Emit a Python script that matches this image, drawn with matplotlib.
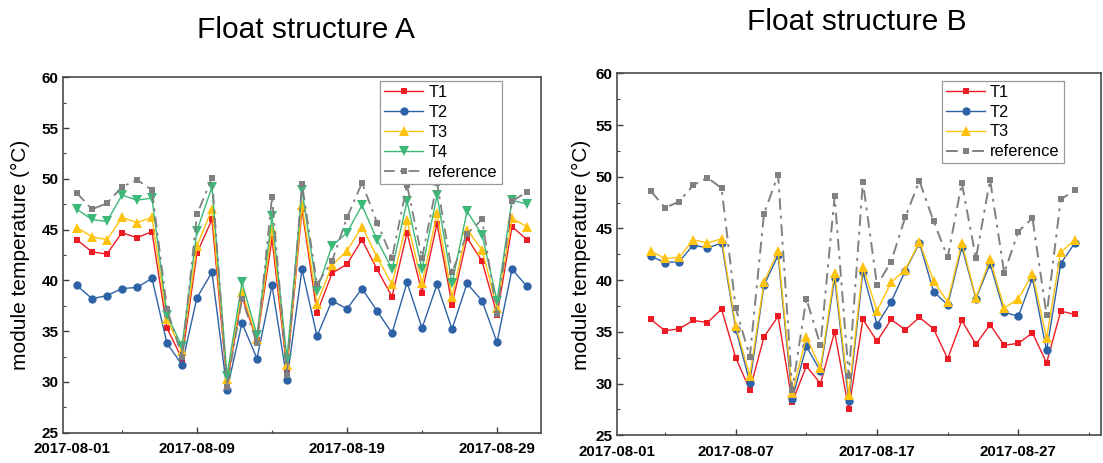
import matplotlib
matplotlib.use("Agg")
import matplotlib.pyplot as plt
import matplotlib.dates as mdates
import pandas as pd

plt.rcParams["font.family"] = ["Liberation Sans", "DejaVu Sans"]

dates = pd.date_range("2017-08-01", "2017-08-31", freq="D")

# Float structure A
a_t1 = [44.0, 42.8, 42.6, 44.7, 44.2, 44.8, 35.3, 32.3, 42.7, 46.0, 29.9, 38.4, 34.1, 44.1, 31.2,
        47.0, 36.8, 40.7, 41.6, 44.0, 41.1, 38.4, 44.7, 38.8, 45.6, 37.6, 44.2, 41.9, 36.6, 45.3, 44.0]
a_t2 = [39.5, 38.2, 38.5, 39.2, 39.3, 40.2, 33.8, 31.7, 38.3, 40.8, 29.2, 35.8, 32.3, 39.5, 30.2,
        41.1, 34.5, 38.0, 37.2, 39.2, 37.0, 34.8, 39.8, 35.3, 39.6, 35.2, 39.7, 38.0, 33.9, 41.1, 39.4]
a_t3 = [45.2, 44.3, 44.0, 46.2, 45.7, 46.2, 36.2, 33.0, 43.4, 47.0, 30.3, 38.9, 34.2, 45.1, 31.7,
        47.4, 37.7, 41.5, 42.9, 45.3, 42.3, 39.6, 45.9, 39.7, 46.6, 38.4, 45.0, 43.0, 37.3, 46.1, 45.3]
a_t4 = [47.0, 46.0, 45.8, 48.4, 47.9, 48.1, 36.6, 33.5, 44.9, 49.2, 30.6, 39.8, 34.6, 46.3, 32.3,
        48.9, 39.0, 43.4, 44.7, 47.4, 44.0, 41.1, 47.8, 41.1, 48.4, 39.7, 46.8, 44.5, 38.0, 47.9, 47.5]
a_ref = [48.6, 47.0, 47.6, 49.2, 49.9, 48.9, 37.2, 32.5, 46.5, 50.1, 29.5, 38.2, 33.8, 48.2, 30.7,
         49.5, 39.6, 41.9, 46.2, 49.6, 45.7, 42.2, 49.4, 42.2, 49.6, 40.8, 44.6, 46.0, 36.7, 47.8, 48.7]

# Float structure B
b_t1 = [36.2, 35.1, 35.3, 36.1, 35.9, 37.2, 32.5, 29.4, 34.5, 36.5, 28.2, 31.7, 30.0, 35.0, 27.5,
        36.2, 34.1, 36.2, 35.2, 36.4, 35.3, 32.4, 36.1, 33.8, 35.7, 33.7, 33.9, 34.9, 32.0, 37.0, 36.7]
b_t2 = [42.3, 41.7, 41.8, 43.4, 43.1, 43.6, 35.3, 30.1, 39.5, 42.4, 28.5, 33.6, 31.2, 40.2, 28.3,
        40.8, 35.7, 37.9, 40.9, 43.6, 38.9, 37.6, 43.2, 38.2, 41.6, 36.9, 36.5, 40.2, 33.2, 41.6, 43.6]
b_t3 = [42.8, 42.1, 42.2, 43.9, 43.6, 44.0, 35.6, 30.7, 39.8, 42.8, 29.1, 34.5, 31.5, 40.7, 28.9,
        41.3, 37.0, 39.8, 41.0, 43.7, 39.9, 37.9, 43.6, 38.3, 42.0, 37.3, 38.2, 40.6, 34.4, 42.7, 43.9]
b_ref = [48.6, 47.0, 47.6, 49.2, 49.9, 48.9, 37.3, 32.6, 46.4, 50.2, 29.4, 38.2, 33.7, 48.1, 30.7,
         49.5, 39.5, 41.8, 46.1, 49.6, 45.7, 42.2, 49.4, 42.1, 49.7, 40.7, 44.7, 46.0, 36.6, 47.8, 48.7]

a_tick_dates = ["2017-08-09", "2017-08-19", "2017-08-29"]
a_minor_dates = ["2017-08-04", "2017-08-14", "2017-08-24"]
b_tick_dates = ["2017-08-07", "2017-08-17", "2017-08-27"]
b_minor_dates = ["2017-08-02", "2017-08-12", "2017-08-22", "2017-09-01"]

RED = "#ed1c24"
BLUE = "#2e62a6"
YELLOW = "#ffc20e"
GREEN = "#3cb878"
GRAY = "#808080"
DASHDOT = (0, (6, 3, 1.5, 3))

W, H = 1103, 463
fig = plt.figure(figsize=(W / 100, H / 100), dpi=100)

x = mdates.date2num(dates)
d0 = x[0]


def style_axes(ax, left, right, majors, minors, first_pos):
    ax.set_xlim(d0 + left, d0 + right)
    ax.set_ylim(25, 60)
    pos = [first_pos] + [mdates.date2num(pd.Timestamp(d)) for d in majors]
    ax.set_xticks(pos)
    ax.set_xticklabels(["2017-08-01"] + [d for d in majors])
    ax.set_xticks([mdates.date2num(pd.Timestamp(d)) for d in minors], minor=True)
    ax.xaxis.get_major_ticks()[0].tick1line.set_visible(False)
    ax.set_yticks(range(25, 61, 5))
    ax.set_yticks([27.5 + 5 * i for i in range(7)], minor=True)
    ax.tick_params(which="major", direction="in", length=4, width=1.0, color="#404040")
    ax.tick_params(which="minor", direction="in", length=2.5, width=0.8, color="#404040")
    ax.tick_params(axis="x", labelsize=10.8, pad=7)
    ax.tick_params(axis="y", labelsize=11, pad=3)
    for lab in ax.get_xticklabels() + ax.get_yticklabels():
        lab.set_fontweight("bold")
    for sp in ax.spines.values():
        sp.set_color("#4a4a4a")
        sp.set_linewidth(1.2)


def legend(ax, anchor):
    lg = ax.legend(loc="upper left", bbox_to_anchor=anchor, fontsize=11.8, frameon=True,
                   fancybox=False, edgecolor="#999999", framealpha=1, borderaxespad=0,
                   borderpad=0.25, labelspacing=0.3, handlelength=2.4, handletextpad=0.3)
    lg.get_frame().set_linewidth(0.9)


mk = dict(lw=1.0, markeredgewidth=0)

# panel A
axa = fig.add_axes([63 / W, 30.3 / H, 478 / W, 355.4 / H])
axa.plot(x, a_t1, color=RED, marker="s", ms=5, label="T1", **mk)
axa.plot(x, a_t2, color=BLUE, marker="o", ms=6, label="T2", **mk)
axa.plot(x, a_t3, color=YELLOW, marker="^", ms=6.5, label="T3", **mk)
axa.plot(x, a_t4, color=GREEN, marker="v", ms=6.5, label="T4", **mk)
axa.plot(x, a_ref, color=GRAY, marker="s", ms=5, ls=DASHDOT, lw=1.3,
         markeredgewidth=0, label="reference")
style_axes(axa, -0.93, 30.93, a_tick_dates, a_minor_dates, d0 - 0.33)
legend(axa, (0.663, 0.99))

# panel B
axb = fig.add_axes([617 / W, 27.7 / H, 484 / W, 362 / H])
axb.plot(x, b_t1, color=RED, marker="s", ms=5, label="T1", **mk)
axb.plot(x, b_t2, color=BLUE, marker="o", ms=6, label="T2", **mk)
axb.plot(x, b_t3, color=YELLOW, marker="^", ms=6.5, label="T3", **mk)
axb.plot(x, b_ref, color=GRAY, marker="s", ms=5, ls=DASHDOT, lw=1.4,
         markeredgewidth=0, label="reference")
style_axes(axb, -2.4, 31.85, b_tick_dates, b_minor_dates, d0 - 2.4)
legend(axb, (0.671, 0.98))

fig.text(306 / W, 1 - 30 / H, "Float structure A", fontsize=21.5, ha="center", va="center")
fig.text(857 / W, 1 - 22 / H, "Float structure B", fontsize=21.5, ha="center", va="center")
fig.text(20 / W, 1 - 255 / H, "module temperature (°C)", fontsize=15, rotation=90,
         ha="center", va="center")
fig.text(581 / W, 1 - 255 / H, "module temperature (°C)", fontsize=15, rotation=90,
         ha="center", va="center")

fig.savefig("out.png", dpi=100)
